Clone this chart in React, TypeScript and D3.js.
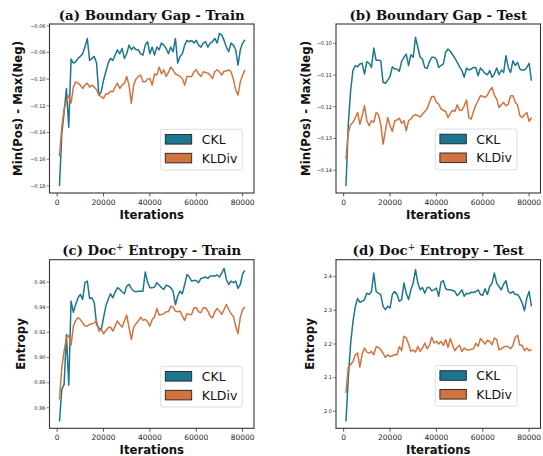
import React from 'react';
import * as d3 from 'd3';

const ITERATIONS = [
  1000, 2000, 3000, 4000, 5000, 6000, 7000, 8000, 9000, 10000,
  11000, 12000, 13000, 14000, 15000, 16000, 17000, 18000, 19000, 20000,
  21000, 22000, 23000, 24000, 25000, 26000, 27000, 28000, 29000, 30000,
  31000, 32000, 33000, 34000, 35000, 36000, 37000, 38000, 39000, 40000,
  41000, 42000, 43000, 44000, 45000, 46000, 47000, 48000, 49000, 50000,
  51000, 52000, 53000, 54000, 55000, 56000, 57000, 58000, 59000, 60000,
  61000, 62000, 63000, 64000, 65000, 66000, 67000, 68000, 69000, 70000,
  71000, 72000, 73000, 74000, 75000, 76000, 77000, 78000, 79000, 80000,
  81000,
];

const GAP_TRAIN_CKL = [
  -0.180, -0.141, -0.125, -0.107, -0.136, -0.085, -0.088, -0.087, -0.0845, -0.083,
  -0.081, -0.076, -0.0695, -0.086, -0.0845, -0.083, -0.088, -0.112, -0.1095, -0.1008,
  -0.0945, -0.088, -0.0845, -0.086, -0.082, -0.078, -0.081, -0.077, -0.0845, -0.081,
  -0.0745, -0.078, -0.076, -0.078, -0.078, -0.081, -0.082, -0.0745, -0.072, -0.081,
  -0.076, -0.082, -0.076, -0.078, -0.073, -0.0745, -0.077, -0.081, -0.076, -0.0795,
  -0.0695, -0.088, -0.083, -0.081, -0.0745, -0.071, -0.072, -0.071, -0.073, -0.071,
  -0.0745, -0.076, -0.073, -0.072, -0.076, -0.073, -0.072, -0.0695, -0.073, -0.06575,
  -0.067, -0.071, -0.076, -0.0795, -0.073, -0.0745, -0.078, -0.0895, -0.078, -0.073,
  -0.0705,
];
const GAP_TRAIN_KLDIV = [
  -0.158, -0.136, -0.122, -0.117, -0.112, -0.118, -0.106, -0.102, -0.103, -0.1045,
  -0.107, -0.1045, -0.103, -0.106, -0.1045, -0.106, -0.108, -0.112, -0.113, -0.1145,
  -0.111, -0.111, -0.109, -0.1095, -0.106, -0.103, -0.107, -0.1045, -0.103, -0.098,
  -0.1045, -0.118, -0.1045, -0.100, -0.098, -0.097, -0.102, -0.102, -0.100, -0.0995,
  -0.1045, -0.096, -0.097, -0.091, -0.096, -0.093, -0.098, -0.095, -0.091, -0.093,
  -0.096, -0.097, -0.098, -0.0995, -0.1045, -0.098, -0.098, -0.098, -0.0945, -0.093,
  -0.096, -0.098, -0.0945, -0.095, -0.0955, -0.097, -0.0995, -0.0945, -0.093, -0.0945,
  -0.097, -0.094, -0.094, -0.093, -0.0945, -0.100, -0.108, -0.112, -0.102, -0.097,
  -0.093,
];
const GAP_TEST_CKL = [
  -0.145, -0.1255, -0.115, -0.1086, -0.107, -0.1074, -0.1065, -0.1063, -0.1097, -0.1058,
  -0.1063, -0.1076, -0.1015, -0.1053, -0.1053, -0.1055, -0.1123, -0.1126, -0.1116, -0.1105,
  -0.1074, -0.1081, -0.1081, -0.1088, -0.1057, -0.1044, -0.1034, -0.107, -0.1036, -0.1044,
  -0.0981, -0.1013, -0.1044, -0.105, -0.1076, -0.1079, -0.1057, -0.1044, -0.1044, -0.105,
  -0.1076, -0.107, -0.1065, -0.1028, -0.1018, -0.1025, -0.1036, -0.1047, -0.106, -0.1074,
  -0.1086, -0.1107, -0.1078, -0.1084, -0.1081, -0.1076, -0.1076, -0.1102, -0.1078, -0.1086,
  -0.1095, -0.1099, -0.1086, -0.1107, -0.1097, -0.1078, -0.1099, -0.1084, -0.1092, -0.1039,
  -0.1076, -0.1092, -0.1055, -0.107, -0.106, -0.1081, -0.1084, -0.1084, -0.1076, -0.1063,
  -0.1118,
];
const GAP_TEST_KLDIV = [
  -0.1365, -0.1281, -0.1257, -0.1249, -0.1236, -0.1218, -0.1255, -0.1228, -0.1197, -0.1244,
  -0.126, -0.1244, -0.1249, -0.1218, -0.1225, -0.1255, -0.1318, -0.1276, -0.1234, -0.126,
  -0.1278, -0.1244, -0.1242, -0.1236, -0.1252, -0.1244, -0.1276, -0.1244, -0.1239, -0.1228,
  -0.1225, -0.1228, -0.1232, -0.1223, -0.1215, -0.1207, -0.1186, -0.1168, -0.1168, -0.1186,
  -0.1192, -0.1207, -0.1211, -0.1215, -0.1234, -0.1221, -0.1211, -0.1215, -0.1194, -0.1211,
  -0.1211, -0.1197, -0.1179, -0.1234, -0.1239, -0.1215, -0.1195, -0.1181, -0.1165, -0.1167,
  -0.1171, -0.1163, -0.1149, -0.1139, -0.1163, -0.1176, -0.1202, -0.1194, -0.1186, -0.1197,
  -0.1192, -0.1165, -0.1165, -0.1186, -0.1194, -0.1228, -0.1234, -0.1225, -0.1218, -0.1246,
  -0.1234,
];
const ENT_TRAIN_CKL = [
  0.849, 0.8746, 0.8786, 0.9184, 0.878, 0.9449, 0.936, 0.9422, 0.9475, 0.9502,
  0.9462, 0.9595, 0.9608, 0.947, 0.9475, 0.9436, 0.9263, 0.9237, 0.922, 0.9316,
  0.9409, 0.9462, 0.9507, 0.9475, 0.952, 0.9555, 0.9542, 0.9523, 0.9507, 0.9568,
  0.9581, 0.955, 0.9528, 0.9523, 0.9528, 0.9528, 0.9528, 0.968, 0.960, 0.9555,
  0.9555, 0.956, 0.9595, 0.9576, 0.9555, 0.9542, 0.9576, 0.9568, 0.9555, 0.9528,
  0.942, 0.9489, 0.9528, 0.9507, 0.9581, 0.9661, 0.964, 0.9608, 0.9613, 0.9613,
  0.9595, 0.9629, 0.9634, 0.964, 0.9629, 0.9648, 0.9648, 0.9648, 0.9656, 0.964,
  0.9674, 0.9709, 0.9621, 0.9581, 0.9608, 0.9595, 0.9608, 0.955, 0.9581, 0.9666,
  0.9693,
];
const ENT_TRAIN_KLDIV = [
  0.8666, 0.8918, 0.9051, 0.9157, 0.9177, 0.9099, 0.925, 0.9295, 0.9316, 0.9303,
  0.9276, 0.925, 0.925, 0.9263, 0.9268, 0.9276, 0.929, 0.921, 0.9223, 0.9189,
  0.9215, 0.9237, 0.9242, 0.921, 0.925, 0.929, 0.9263, 0.9242, 0.929, 0.9337,
  0.9237, 0.9144, 0.9242, 0.9268, 0.929, 0.9321, 0.9295, 0.9303, 0.9284, 0.925,
  0.9303, 0.9321, 0.939, 0.9337, 0.9343, 0.9348, 0.9364, 0.9364, 0.9409, 0.9401,
  0.9369, 0.9364, 0.9369, 0.9329, 0.9295, 0.9348, 0.9343, 0.9343, 0.9396, 0.9396,
  0.9364, 0.9356, 0.9396, 0.9396, 0.9369, 0.9329, 0.9316, 0.9364, 0.939, 0.9369,
  0.9343, 0.9382, 0.9422, 0.9382, 0.9348, 0.9329, 0.925, 0.919, 0.9321, 0.9382,
  0.9401,
];
const ENT_TEST_CKL = [
  1.97, 2.099, 2.2, 2.265, 2.31, 2.335, 2.324, 2.327, 2.332, 2.351,
  2.347, 2.356, 2.411, 2.356, 2.351, 2.347, 2.312, 2.302, 2.312, 2.307,
  2.347, 2.356, 2.347, 2.327, 2.332, 2.381, 2.351, 2.332, 2.361, 2.381,
  2.421, 2.381, 2.361, 2.368, 2.351, 2.368, 2.368, 2.358, 2.361, 2.366,
  2.342, 2.384, 2.388, 2.364, 2.361, 2.361, 2.359, 2.356, 2.344, 2.351,
  2.361, 2.342, 2.351, 2.349, 2.354, 2.353, 2.356, 2.361, 2.347, 2.345,
  2.364, 2.347, 2.371, 2.381, 2.411, 2.381, 2.371, 2.361, 2.378, 2.388,
  2.356, 2.351, 2.356, 2.347, 2.347, 2.337, 2.322, 2.299, 2.337, 2.356,
  2.312,
];
const ENT_TEST_KLDIV = [
  2.054, 2.131, 2.139, 2.147, 2.168, 2.173, 2.131, 2.170, 2.188, 2.176,
  2.173, 2.178, 2.168, 2.192, 2.190, 2.183, 2.173, 2.160, 2.168, 2.163,
  2.165, 2.168, 2.168, 2.192, 2.180, 2.223, 2.218, 2.200, 2.178, 2.182,
  2.176, 2.193, 2.178, 2.188, 2.203, 2.186, 2.196, 2.220, 2.203, 2.208,
  2.200, 2.208, 2.196, 2.213, 2.190, 2.216, 2.196, 2.180, 2.191, 2.196,
  2.178, 2.188, 2.183, 2.182, 2.184, 2.186, 2.202, 2.193, 2.216, 2.208,
  2.200, 2.211, 2.208, 2.198, 2.218, 2.213, 2.183, 2.186, 2.191, 2.193,
  2.192, 2.186, 2.196, 2.220, 2.226, 2.196, 2.196, 2.180, 2.188, 2.180,
  2.183,
];

const X_TICKS = [0, 20000, 40000, 60000, 80000];
const Y_TICKS_GAP_TRAIN = [-0.18, -0.16, -0.14, -0.12, -0.1, -0.08, -0.06];
const Y_TICKS_GAP_TEST = [-0.14, -0.13, -0.12, -0.11, -0.1];
const Y_TICKS_ENT_TRAIN = [0.86, 0.88, 0.9, 0.92, 0.94, 0.96];
const Y_TICKS_ENT_TEST = [2.0, 2.1, 2.2, 2.3, 2.4];
const SERIES_NAMES = ['CKL', 'KLDiv'];

const COLORS = ['#1d7690', '#d2733f'];
const SANS = 'DejaVu Sans, sans-serif';
const SERIF = 'DejaVu Serif, serif';

type PanelSpec = {
  letter: string;
  titleMain: string;
  titleTail: string;
  sup: boolean;
  ylabel: string;
  series: number[][];
  yDomain: [number, number];
  yTicks: number[];
  fmt: string;
  box: { x0: number; x1: number; y0: number; y1: number };
  ylabelX: number;
  legendX: number;
  legendY: number;
};

const PANELS: PanelSpec[] = [
  {
    letter: 'a', titleMain: '(a) Boundary Gap - Train', titleTail: '', sup: false,
    ylabel: 'Min(Pos) - Max(Neg)', series: [GAP_TRAIN_CKL, GAP_TRAIN_KLDIV],
    yDomain: [-0.1853, -0.0587], yTicks: Y_TICKS_GAP_TRAIN, fmt: '.2f',
    box: { x0: 49.5, x1: 254, y0: 24, y1: 193 }, ylabelX: 22, legendX: 160.7, legendY: 129.3,
  },
  {
    letter: 'b', titleMain: '(b) Boundary Gap - Test', titleTail: '', sup: false,
    ylabel: 'Min(Pos) - Max(Neg)', series: [GAP_TEST_CKL, GAP_TEST_KLDIV],
    yDomain: [-0.1472, -0.0939], yTicks: Y_TICKS_GAP_TEST, fmt: '.2f',
    box: { x0: 336, x1: 540.5, y0: 24, y1: 193 }, ylabelX: 309.5, legendX: 435.3, legendY: 129,
  },
  {
    letter: 'c', titleMain: '(c) Doc', titleTail: ' Entropy - Train', sup: true,
    ylabel: 'Entropy', series: [ENT_TRAIN_CKL, ENT_TRAIN_KLDIV],
    yDomain: [0.8437, 0.9778], yTicks: Y_TICKS_ENT_TRAIN, fmt: '.2f',
    box: { x0: 49.5, x1: 254, y0: 259.7, y1: 428.3 }, ylabelX: 25, legendX: 160.7, legendY: 366.3,
  },
  {
    letter: 'd', titleMain: '(d) Doc', titleTail: ' Entropy - Test', sup: true,
    ylabel: 'Entropy', series: [ENT_TEST_CKL, ENT_TEST_KLDIV],
    yDomain: [1.9495, 2.4505], yTicks: Y_TICKS_ENT_TEST, fmt: '.1f',
    box: { x0: 336, x1: 540.5, y0: 259.7, y1: 428.3 }, ylabelX: 314, legendX: 435.3, legendY: 365.5,
  },
];

function Panel({ p }: { p: PanelSpec }) {
  const { box } = p;
  const x = d3.scaleLinear().domain([-3300, 84900]).range([box.x0, box.x1]);
  const y = d3.scaleLinear().domain(p.yDomain).range([box.y1, box.y0]);
  const fmt = d3.format(p.fmt);
  const line = d3
    .line<[number, number]>()
    .x((d) => x(d[0]))
    .y((d) => y(d[1]));
  const cx = (box.x0 + box.x1) / 2;
  const cy = (box.y0 + box.y1) / 2;
  const titleY = box.y0 - 4.5;
  return (
    <g>
      {p.series.map((vals, si) => (
        <path
          key={si}
          d={line(ITERATIONS.map((it, i) => [it, vals[i]] as [number, number])) || ''}
          fill="none"
          stroke={COLORS[si]}
          strokeWidth={1.5}
          strokeLinejoin="round"
        />
      ))}
      <rect x={box.x0} y={box.y0} width={box.x1 - box.x0} height={box.y1 - box.y0}
        fill="none" stroke="#333" strokeWidth={1.1} />
      {X_TICKS.map((t) => (
        <g key={t}>
          <line x1={x(t)} x2={x(t)} y1={box.y1} y2={box.y1 + 3.5} stroke="#333" strokeWidth={0.8} />
          <text x={x(t)} y={box.y1 + 12} textAnchor="middle" fontFamily={SANS} fontSize={7.5} fill="#222">
            {String(t)}
          </text>
        </g>
      ))}
      {p.yTicks.map((t) => (
        <g key={t}>
          <line x1={box.x0 - 3} x2={box.x0} y1={y(t)} y2={y(t)} stroke="#333" strokeWidth={0.6} />
          <text x={box.x0 - 4} y={y(t) + 1.8} textAnchor="end" fontFamily={SANS} fontSize={5} fill="#222">
            {fmt(t)}
          </text>
        </g>
      ))}
      <text x={cx} y={titleY} textAnchor="middle" fontFamily={SERIF} fontWeight="bold" fontSize={13.3} fill="#111">
        {p.titleMain}
        {p.sup ? <tspan dy={-5} fontSize={9} fontWeight="normal">+</tspan> : null}
        {p.sup ? <tspan dy={5}>{p.titleTail}</tspan> : null}
      </text>
      <text
        transform={`translate(${p.ylabelX},${cy}) rotate(-90)`}
        textAnchor="middle" fontFamily={SANS} fontWeight="bold" fontSize={11.7} fill="#111"
      >
        {p.ylabel}
      </text>
      <text x={cx} y={box.y1 + 25.5} textAnchor="middle" fontFamily={SANS} fontWeight="bold" fontSize={11.7} fill="#111">
        Iterations
      </text>
      <g transform={`translate(${p.legendX},${p.legendY})`}>
        <rect x={0} y={0} width={81.6} height={40.7} rx={2} fill="white" fillOpacity={0.8} stroke="#d6d6d6" strokeWidth={0.8} />
        {SERIES_NAMES.map((name, si) => (
          <g key={name} transform={`translate(0,${si * 18.8})`}>
            <rect x={4.6} y={5.2} width={26.4} height={9.6} fill={COLORS[si]} stroke="#222" strokeWidth={0.9} />
            <text x={41} y={14.7} fontFamily={SANS} fontSize={12.5} fill="#111">{name}</text>
          </g>
        ))}
      </g>
    </g>
  );
}

export default function App() {
  return (
    <svg width={543} height={456} viewBox="0 0 543 456"
      style={{ position: 'absolute', left: 0, top: 0, background: 'white' }}>
      <rect x={0} y={0} width={543} height={456} fill="white" />
      {PANELS.map((p) => (
        <Panel key={p.letter} p={p} />
      ))}
    </svg>
  );
}
